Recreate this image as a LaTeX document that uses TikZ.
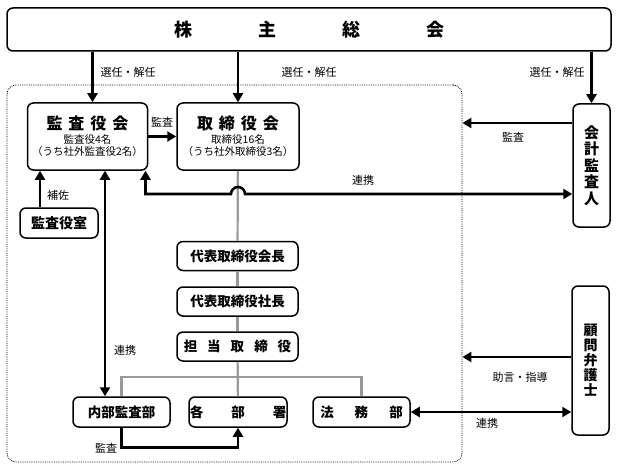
\documentclass[tikz,border=0pt]{standalone}
\usepackage{fontspec}
\setmainfont{Noto Sans CJK JP}
\usetikzlibrary{arrows.meta}

\begin{document}
\begin{tikzpicture}[x=1pt, y=1pt, >={Triangle[length=9pt,width=10pt]},
		font=\fontsize{10.5}{12.5}\selectfont]
		
		\tikzset{
			box/.style={draw, line width=1.5pt, rounded corners=6pt, inner sep=0pt, align=center},
			link/.style={line width=2.6pt},
			line/.style={draw=black!40, line width=2.2pt},
			lbl/.style={font=\fontsize{11}{13}\selectfont},
			mid/.style={font=\fontsize{13.5}{15}\selectfont\bfseries},
			tall/.style={font=\fontsize{15}{16.5}\selectfont\bfseries},
		}
		
		\useasboundingbox (0,0) rectangle (618,-468);
		
		\node [draw, densely dotted, line width=0.8pt, rounded corners=9pt, minimum width=455pt, minimum height=377pt] (group) at (234.5,-273.5) {};
		
		\node [box, font=\fontsize{18}{20}\selectfont\bfseries, minimum width=604pt, minimum height=43pt] (meeting) at (309,-29.5) {株\hspace{66pt}主\hspace{66pt}総\hspace{66pt}会};
		
		\node [box, minimum width=120pt, minimum height=67pt] (auditors) at (87.5,-136.5) {{\fontsize{16}{18}\selectfont\bfseries 監\hspace{6pt}査\hspace{6pt}役\hspace{6pt}会}\\[1pt] 監査役4名\\（うち社外監査役2名）};
		\node [box, minimum width=122pt, minimum height=67pt] (board) at (238,-136.5) {{\fontsize{16}{18}\selectfont\bfseries 取\hspace{6pt}締\hspace{6pt}役\hspace{6pt}会}\\[1pt] 取締役16名\\（うち社外取締役3名）};
		
		\node [box, tall, minimum width=37pt, minimum height=123pt] (accountant) at (591.5,-165.5) {会\\計\\監\\査\\人};
		\node [box, font=\fontsize{14}{15}\selectfont\bfseries, minimum width=37pt, minimum height=149pt] (lawyer) at (590.5,-360.5) {顧\\問\\弁\\護\\士};
		
		\node [box, font=\fontsize{14}{16}\selectfont\bfseries, minimum width=78pt, minimum height=30pt] (office) at (59,-223) {監査役室};
		
		\node [box, mid, minimum width=121pt, minimum height=29pt] (chairman) at (237.5,-256) {代表取締役会長};
		\node [box, mid, minimum width=121pt, minimum height=29pt] (president) at (237.5,-301.5) {代表取締役社長};
		\node [box, mid, minimum width=121pt, minimum height=29pt] (director) at (237.5,-346.5) {担\hspace{10pt}当\hspace{10pt}取\hspace{10pt}締\hspace{10pt}役};
		
		\node [box, mid, minimum width=97pt, minimum height=30pt] (internal) at (121.5,-412) {内部監査部};
		\node [box, mid, minimum width=98pt, minimum height=30pt] (depts) at (238,-412) {各\hspace{28pt}部\hspace{28pt}署};
		\node [box, mid, minimum width=97pt, minimum height=30pt] (legal) at (361.5,-412) {法\hspace{21pt}務\hspace{21pt}部};
		
		\draw [line] (board) -- (chairman);
		\draw [line] (chairman) -- (president);
		\draw [line] (president) -- (director);
		\draw [line] (director) -- (depts);
		\coordinate (branch) at ([yshift=-15pt]director.south);
		\draw [line] (internal.north) |- (branch) -| (legal.north);
		
		\draw [link, ->] ([xshift=5pt]auditors.north |- meeting.south) -- ([xshift=5pt]auditors.north);
		\draw [link, ->] (board.north |- meeting.south) -- (board.north);
		\draw [link, ->] (accountant.north |- meeting.south) -- (accountant.north);
		
		\draw [link, ->] (auditors) -- (board);
		
		\coordinate (audit out) at ([yshift=42.5pt]accountant.west);
		\draw [link, ->] (audit out) -- (audit out -| group.east);
		
		\coordinate (coop) at ([yshift=-28.5pt]accountant.west);
		\draw [link, <->] ([xshift=58pt]auditors.south) |- ([xshift=-7pt]board.south |- coop) arc[start angle=180, end angle=0, radius=7pt] -- (coop);
		
		\draw [link, ->] ([xshift=-19pt]office.north) -- ([xshift=-19pt]office.north |- auditors.south);
		\draw [link, <->] ([xshift=17.5pt]auditors.south) -- ([xshift=17.5pt]auditors.south |- internal.north);
		
		\draw [link, ->] (internal.south) -- ++(0,-20pt) -| (depts.south);
		
		\coordinate (advice) at ([yshift=3.5pt]lawyer.west);
		\draw [link, ->] (advice) -- (advice -| group.east);
		\draw [link, <->] (legal.east) -- (legal.east -| lawyer.west);
		
		\node [lbl] (sel a) at (128,-72) {選任・解任};
		\node [lbl] (sel b) at (309,-72) {選任・解任};
		\node [lbl] (sel c) at (557,-72) {選任・解任};
		\node [lbl] (audit a) at (162,-122) {監査};
		\node [lbl] (audit b) at (513,-137) {監査};
		\node [lbl] (coop a) at (363,-180) {連携};
		\node [lbl] (assist) at (58,-195) {補佐};
		\node [lbl] (coop b) at (125,-350) {連携};
		\node [lbl] (audit c) at (106,-448) {監査};
		\node [lbl] (advice lbl) at (520,-377) {助言・指導};
		\node [lbl] (coop c) at (487,-423) {連携};
		\end{tikzpicture}
\end{document}
